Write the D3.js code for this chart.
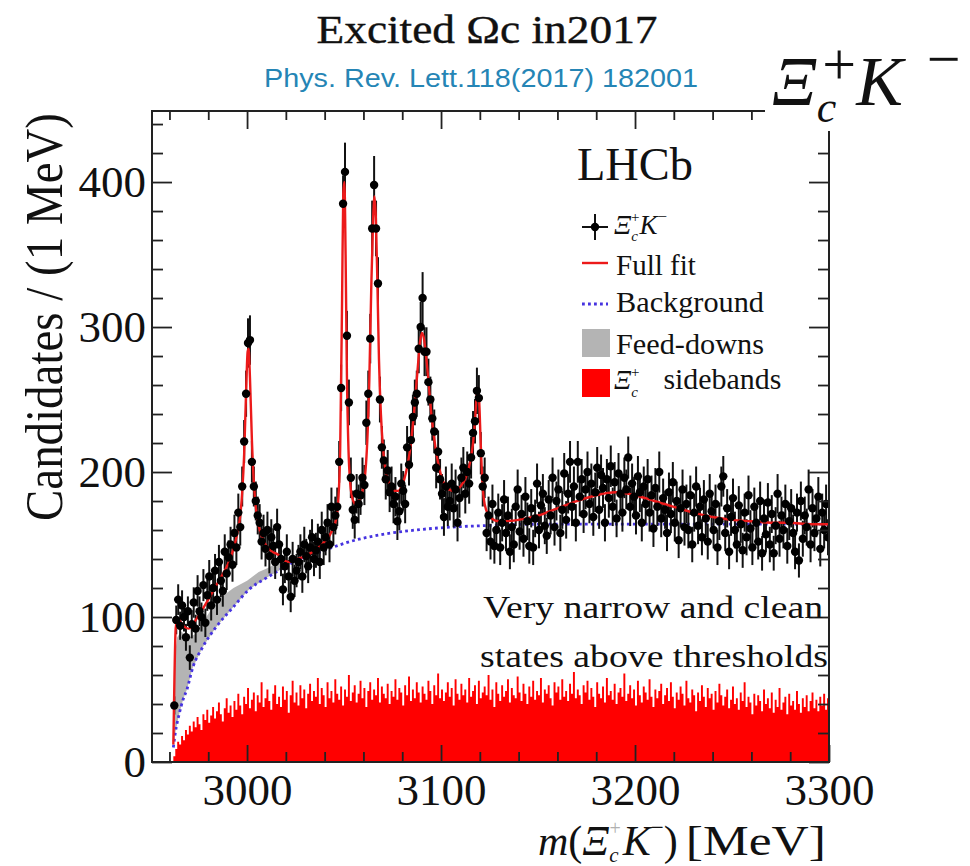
<!DOCTYPE html>
<html>
<head>
<meta charset="utf-8">
<script src="https://cdn.jsdelivr.net/npm/d3@7"></script>
<style>
  body { margin: 0; background: #fff; }
</style>
</head>
<body>
<svg id="chart" width="970" height="866" font-family="Liberation Serif, Times New Roman, serif"></svg>
<script>
// ---- m(Xi_c+ K-) spectrum, 1 MeV bins starting at the lower edge below ----
const binStart = 2962;
const binWidth = 1;

// Candidates per bin (Xi_c+ K- signal region)
const candidates = [
  39, 98, 112, 94, 108, 100, 86, 104, 72, 95,
  110, 92, 118, 104, 100, 122, 96, 115, 128, 108,
  120, 132, 112, 138, 125, 118, 145, 130, 141, 150,
  136, 158, 148, 172, 162, 190, 221, 254, 289, 291,
  207, 190, 180, 170, 165, 152, 158, 147, 160, 142,
  155, 149, 138, 162, 150, 140, 119, 135, 145, 128,
  114, 140, 125, 132, 138, 145, 128, 150, 142, 135,
  148, 155, 140, 146, 152, 138, 160, 148, 155, 165,
  150, 176, 162, 170, 176, 207, 258, 385, 407, 294,
  248, 196, 174, 167, 185, 178, 184, 196, 191, 234,
  254, 292, 368, 398, 368, 330, 250, 217, 208, 195,
  201, 186, 190, 178, 183, 166, 173, 192, 187, 178,
  217, 205, 222, 238, 248, 254, 285, 300, 320, 283,
  283, 262, 250, 237, 228, 203, 214, 195, 185, 169,
  190, 176, 180, 192, 175, 188, 165, 182, 196, 203,
  185, 200, 192, 210, 227, 235, 256, 251, 213, 190,
  196, 158, 170, 152, 178, 149, 160, 172, 148, 165,
  181, 158, 170, 145, 162, 150, 176, 188, 159, 171,
  154, 183, 166, 149, 175, 148, 168, 192, 160, 177,
  185, 163, 156, 181, 170, 196, 162, 180, 188, 158,
  174, 199, 167, 185, 207, 176, 190, 165, 207, 183,
  195, 171, 188, 200, 178, 192, 169, 186, 203, 174,
  198, 189, 165, 195, 182, 204, 176, 193, 168, 199,
  185, 172, 196, 188, 210, 176, 192, 183, 170, 197,
  186, 165, 190, 178, 195, 172, 184, 161, 189, 176,
  200, 168, 182, 174, 158, 186, 171, 193, 165, 180,
  153, 175, 188, 162, 178, 160, 184, 150, 172, 190,
  163, 176, 155, 181, 168, 152, 185, 173, 160, 178,
  148, 166, 190, 197, 158, 175, 145, 169, 182, 160,
  150, 177, 164, 146, 172, 155, 184, 161, 148, 176,
  165, 152, 180, 144, 168, 157, 179, 150, 171, 144,
  163, 185, 154, 170, 160, 178, 149, 166, 175, 158,
  145, 172, 139, 180, 154, 170, 162, 188, 150, 175,
  158, 168, 183, 147, 172, 160, 178, 155
];

// Xi_c+ sideband candidates per bin
const sidebands = [
  4, 9, 14, 12, 18, 15, 22, 19, 25, 21,
  28, 24, 31, 26, 22, 33, 29, 36, 27, 32,
  38, 30, 35, 41, 33, 28, 37, 44, 34, 39,
  31, 42, 36, 47, 39, 33, 45, 40, 51, 37,
  43, 48, 35, 46, 41, 55, 38, 44, 50, 42,
  36, 47, 53, 40, 45, 38, 52, 43, 49, 34,
  46, 56, 41, 48, 39, 53, 44, 50, 37, 47,
  54, 42, 49, 45, 58, 40, 51, 46, 38, 55,
  44, 49, 41, 57, 47, 43, 52, 39, 50, 45,
  60, 42, 48, 53, 41, 47, 56, 44, 51, 38,
  49, 55, 43, 50, 46, 58, 41, 52, 47, 44,
  54, 40, 49, 45, 57, 43, 51, 48, 39, 53,
  46, 59, 42, 50, 44, 55, 48, 41, 52, 47,
  43, 56, 49, 40, 53, 46, 61, 44, 50, 42,
  48, 55, 45, 51, 39, 57, 47, 43, 54, 46,
  50, 41, 58, 45, 49, 53, 40, 56, 44, 48,
  52, 46, 60, 43, 50, 38, 55, 47, 42, 53,
  45, 49, 57, 41, 51, 46, 44, 59, 48, 42,
  54, 47, 40, 52, 45, 56, 43, 49, 46, 58,
  41, 50, 47, 53, 44, 39, 55, 48, 52, 43,
  57, 45, 49, 42, 54, 47, 62, 44, 50, 46,
  40, 53, 48, 56, 43, 51, 45, 38, 55, 47,
  44, 52, 41, 58, 46, 49, 43, 54, 40, 48,
  51, 45, 61, 42, 47, 53, 44, 50, 39, 56,
  46, 41, 52, 48, 43, 57, 45, 38, 50, 44,
  49, 54, 40, 46, 51, 42, 55, 45, 37, 48,
  43, 52, 47, 39, 56, 44, 41, 50, 46, 35,
  48, 42, 53, 45, 38, 51, 44, 47, 36, 49,
  41, 54, 46, 39, 45, 50, 37, 43, 52, 40,
  44, 36, 48, 42, 55, 38, 45, 41, 33, 47,
  39, 46, 42, 35, 50, 40, 44, 37, 48, 34,
  43, 38, 51, 36, 41, 45, 33, 47, 39, 42,
  36, 49, 40, 34, 44, 38, 46, 35, 42, 48,
  37, 43, 35, 45, 39, 47, 36, 44
];

// Full fit curve
const fitMass = [
  2962, 2962.6, 2963.2, 2964, 2965, 2966, 2968, 2970, 2972, 2975,
  2980, 2985, 2990, 2993, 2995, 2996.5, 2997.5, 2998.5, 2999.5, 3000.3,
  3000.8, 3001.5, 3002.5, 3003.5, 3004.5, 3006, 3008, 3010, 3013, 3016,
  3019, 3022, 3026, 3030, 3035, 3040, 3044, 3046, 3047, 3048,
  3049, 3049.6, 3050.2, 3050.8, 3051.5, 3052.3, 3053.2, 3054.5, 3056, 3058,
  3060, 3061, 3062, 3063, 3064, 3065, 3065.7, 3066.4, 3067.2, 3068,
  3069, 3070, 3071, 3072, 3074, 3076, 3078, 3080, 3082, 3084,
  3086, 3088, 3089.2, 3090.2, 3091.2, 3092.3, 3093.5, 3095, 3097, 3099,
  3101, 3104, 3107, 3110, 3113, 3115, 3116.5, 3117.5, 3118.3, 3119,
  3119.7, 3120.4, 3121.2, 3122, 3123.5, 3126, 3130, 3140, 3150, 3160,
  3170, 3180, 3190, 3200, 3210, 3220, 3230, 3240, 3250, 3260,
  3270, 3280, 3290, 3300
];
const fitValue = [
  12, 60, 92, 98, 98, 96, 93, 92, 95, 101,
  112, 124, 136, 147, 158, 170, 186, 212, 255, 283,
  285, 265, 222, 193, 176, 163, 154, 149, 145, 143,
  139, 138, 140, 142, 146, 152, 160, 168, 180, 215,
  320, 392, 400, 350, 265, 215, 192, 181, 178, 181,
  190, 200, 222, 262, 325, 375, 390, 375, 330, 278,
  240, 218, 205, 198, 190, 187, 187, 191, 200, 215,
  240, 272, 290, 296, 292, 280, 263, 240, 218, 203,
  194, 188, 187, 190, 197, 207, 220, 235, 252, 258,
  248, 222, 196, 182, 173, 168, 166, 167, 170, 175,
  180, 184, 186, 184, 180, 176, 172, 169, 167, 166,
  165, 165, 164, 164
];

// Combinatorial background
const bkgMass  = [2962, 2963, 2965, 2967, 2969, 2972, 2977, 2984, 2993, 3001, 3010, 3019, 3027, 3036, 3044, 3053, 3070, 3087, 3105, 3122, 3150, 3200, 3250, 3300];
const bkgValue = [10, 20, 33, 43, 50, 65, 79, 93, 107, 119, 127, 134, 140, 144, 148, 152, 157, 160, 162, 163, 164, 164, 164, 164];

// Background + feed-down contribution (upper edge of the grey band)
const feedMass  = [2962, 2963, 2964, 2966, 2968, 2970, 2973, 2977, 2982, 2987, 2993, 3000, 3006, 3011, 3015, 3017, 3019];
const feedValue = [10, 76, 86, 90, 88, 86, 88, 96, 106, 114, 120, 125, 131, 134, 137, 138, 134];

const xMajorTicks = [3000, 3100, 3200, 3300];
const xMinorTicks = [2960, 2980, 3020, 3040, 3060, 3080, 3120, 3140, 3160, 3180, 3220, 3240, 3260, 3280];
const yMajorTicks = [0, 100, 200, 300, 400];
const yMinorTicks = [20, 40, 60, 80, 120, 140, 160, 180, 220, 240, 260, 280, 320, 340, 360, 380, 420, 440];

// ---- layout ----
const svg = d3.select("#chart");
const frame = { left: 152, right: 829, top: 111, bottom: 762 };
const x = d3.scaleLinear().domain([2951, 3300]).range([frame.left, frame.right]);
const y = d3.scaleLinear().domain([0, 449]).range([frame.bottom, frame.top]);

svg.append("rect").attr("width", 970).attr("height", 866).attr("fill", "#fff");

svg.append("defs").append("clipPath").attr("id", "plotClip")
  .append("rect")
  .attr("x", frame.left).attr("y", frame.top)
  .attr("width", frame.right - frame.left).attr("height", frame.bottom - frame.top);

const plot = svg.append("g").attr("clip-path", "url(#plotClip)");

const bins = candidates.map((c, i) => ({
  lo: binStart + i * binWidth,
  hi: binStart + (i + 1) * binWidth,
  n: c,
  sb: sidebands[i]
}));

// Sideband histogram as one filled step outline
const sbSteps = bins.map(d => [d.lo, d.sb]);
sbSteps.push([bins[bins.length - 1].hi, bins[bins.length - 1].sb]);
plot.append("path")
  .attr("d", d3.area().x(p => x(p[0])).y0(y(0)).y1(p => y(p[1])).curve(d3.curveStepAfter)(sbSteps))
  .attr("fill", "#ff0000");

// Feed-down band between the background and background + feed-downs
const feedPts = feedMass.map((m, i) => [m, feedValue[i]]);
const bkgPts = bkgMass.map((m, i) => [m, bkgValue[i]]);
const feedBand = feedPts.concat(
  bkgPts.filter(p => p[0] >= feedMass[0] && p[0] <= feedMass[feedMass.length - 1]).reverse()
);
plot.append("path")
  .attr("d", d3.line().x(p => x(p[0])).y(p => y(p[1]))(feedBand) + "Z")
  .attr("fill", "#b4b4b4");

// Background (dotted)
plot.append("path")
  .attr("d", d3.line().x(p => x(p[0])).y(p => y(p[1])).curve(d3.curveMonotoneX)(bkgPts))
  .attr("fill", "none")
  .attr("stroke", "#4633e0")
  .attr("stroke-width", 2.8)
  .attr("stroke-dasharray", "2.8,3.2");

// Data error bars (Poisson, sqrt N)
const centers = bins.map(d => ({ m: (d.lo + d.hi) / 2, lo: d.lo, hi: d.hi, n: d.n, e: Math.sqrt(d.n) }));
const bars = plot.append("g").attr("stroke", "#111").attr("stroke-width", 2);
bars.selectAll("line.v").data(centers).join("line").attr("class", "v")
  .attr("x1", d => x(d.m)).attr("x2", d => x(d.m))
  .attr("y1", d => y(d.n - d.e)).attr("y2", d => y(d.n + d.e));
bars.selectAll("line.h").data(centers).join("line").attr("class", "h")
  .attr("x1", d => x(d.lo)).attr("x2", d => x(d.hi))
  .attr("y1", d => y(d.n)).attr("y2", d => y(d.n));

// Full fit
const fitPts = fitMass.map((m, i) => [m, fitValue[i]]);
plot.append("path")
  .attr("d", d3.line().x(p => x(p[0])).y(p => y(p[1])).curve(d3.curveMonotoneX)(fitPts))
  .attr("fill", "none")
  .attr("stroke", "#ec1a1a")
  .attr("stroke-width", 2.4);

// Data points
plot.append("g").selectAll("circle").data(centers).join("circle")
  .attr("cx", d => x(d.m)).attr("cy", d => y(d.n)).attr("r", 4.2)
  .attr("fill", "#000");

// ---- axes: ticks point inward on all four sides ----
function tickAxis(axisFn, scale, values, size, translate, withLabels, padding) {
  const a = axisFn(scale).tickValues(values).tickSizeInner(-size).tickSizeOuter(0);
  if (withLabels) a.tickPadding(padding).tickFormat(d3.format("d"));
  const g = svg.append("g").attr("transform", translate).call(a);
  g.select(".domain").remove();
  g.selectAll("line").attr("stroke", "#222").attr("stroke-width", 1.8);
  if (withLabels) {
    g.selectAll("text").attr("font-family", "Liberation Serif, serif").attr("font-size", 45).attr("fill", "#111");
  } else {
    g.selectAll("text").remove();
  }
  return g;
}
tickAxis(d3.axisBottom, x, xMinorTicks, 10, `translate(0,${frame.bottom})`, false);
tickAxis(d3.axisBottom, x, xMajorTicks, 17, `translate(0,${frame.bottom})`, true, 11);
tickAxis(d3.axisTop, x, xMinorTicks, 9, `translate(0,${frame.top})`, false);
tickAxis(d3.axisTop, x, xMajorTicks, 18, `translate(0,${frame.top})`, false);
tickAxis(d3.axisLeft, y, yMinorTicks, 11, `translate(${frame.left},0)`, false);
tickAxis(d3.axisLeft, y, yMajorTicks, 20, `translate(${frame.left},0)`, true, 6);
tickAxis(d3.axisRight, y, yMinorTicks, 11, `translate(${frame.right},0)`, false);
tickAxis(d3.axisRight, y, yMajorTicks, 20, `translate(${frame.right},0)`, false);

svg.append("rect")
  .attr("x", frame.left).attr("y", frame.top)
  .attr("width", frame.right - frame.left).attr("height", frame.bottom - frame.top)
  .attr("fill", "none").attr("stroke", "#222").attr("stroke-width", 2);

// Axis titles
svg.append("text")
  .attr("transform", "translate(62,317) rotate(-90)")
  .attr("text-anchor", "middle")
  .attr("font-size", 52)
  .attr("textLength", 408).attr("lengthAdjust", "spacingAndGlyphs")
  .attr("fill", "#111")
  .text("Candidates / (1 MeV)");

// m(Xi_c+ K-) [MeV], laid out as one flowing line
const xt = svg.append("text").attr("x", 538).attr("y", 855).attr("font-size", 42).attr("fill", "#111");
xt.append("tspan").attr("font-style", "italic").text("m");
xt.append("tspan").text("(");
xt.append("tspan").attr("font-style", "italic").text("Ξ");
xt.append("tspan").attr("font-size", 21).attr("font-style", "italic").attr("dy", 7).text("c");
xt.append("tspan").attr("font-size", 20).attr("fill", "#b0b0b0").attr("dx", -9).attr("dy", -27).text("+");
xt.append("tspan").attr("font-style", "italic").attr("dx", 2).attr("dy", 20).text("K");
xt.append("tspan").attr("font-size", 23).attr("dy", -20).text("−");
xt.append("tspan").attr("dy", 20).text(")");
xt.append("tspan").attr("dx", 8).attr("textLength", 140).attr("lengthAdjust", "spacingAndGlyphs").text("[MeV]");

// ---- legend ----
svg.append("text").attr("x", 577).attr("y", 180).attr("font-size", 46)
  .attr("textLength", 116).attr("lengthAdjust", "spacingAndGlyphs").attr("fill", "#111").text("LHCb");

const lg = svg.append("g");
lg.append("line").attr("x1", 582).attr("x2", 608).attr("y1", 227).attr("y2", 227).attr("stroke", "#111").attr("stroke-width", 2);
lg.append("line").attr("x1", 595).attr("x2", 595).attr("y1", 214).attr("y2", 240).attr("stroke", "#111").attr("stroke-width", 2);
lg.append("circle").attr("cx", 595).attr("cy", 227).attr("r", 4.2).attr("fill", "#000");
const l1 = lg.append("text").attr("x", 614).attr("y", 234).attr("font-size", 27).attr("font-style", "italic").attr("fill", "#111");
l1.append("tspan").text("Ξ");
l1.append("tspan").attr("font-size", 15).attr("dy", 7).text("c");
l1.append("tspan").attr("font-size", 15).attr("font-style", "normal").attr("dx", -7).attr("dy", -19).text("+");
l1.append("tspan").attr("dx", 0).attr("dy", 12).text("K");
l1.append("tspan").attr("font-size", 17).attr("font-style", "normal").attr("dy", -12).text("−");

lg.append("line").attr("x1", 582).attr("x2", 608).attr("y1", 263).attr("y2", 263).attr("stroke", "#ec1a1a").attr("stroke-width", 2.4);
lg.append("text").attr("x", 616).attr("y", 275).attr("font-size", 29).attr("fill", "#111").text("Full fit");

lg.append("line").attr("x1", 582).attr("x2", 608).attr("y1", 304).attr("y2", 304).attr("stroke", "#4633e0").attr("stroke-width", 2.8).attr("stroke-dasharray", "2.8,3.2");
lg.append("text").attr("x", 616).attr("y", 312).attr("font-size", 29)
  .attr("textLength", 148).attr("lengthAdjust", "spacingAndGlyphs").attr("fill", "#111").text("Background");

lg.append("rect").attr("x", 582).attr("y", 329).attr("width", 28).attr("height", 28).attr("fill", "#b4b4b4");
lg.append("text").attr("x", 616).attr("y", 354).attr("font-size", 29)
  .attr("textLength", 148).attr("lengthAdjust", "spacingAndGlyphs").attr("fill", "#111").text("Feed-downs");

lg.append("rect").attr("x", 582).attr("y", 369).attr("width", 28).attr("height", 28).attr("fill", "#ff0000");
const l5 = lg.append("text").attr("x", 614).attr("y", 389).attr("font-size", 27).attr("fill", "#111");
l5.append("tspan").attr("font-style", "italic").text("Ξ");
l5.append("tspan").attr("font-size", 15).attr("font-style", "italic").attr("dy", 8).text("c");
l5.append("tspan").attr("font-size", 15).attr("dx", -7).attr("dy", -20).text("+");
l5.append("tspan").attr("font-size", 29).attr("dx", 24).attr("dy", 12)
  .attr("textLength", 118).attr("lengthAdjust", "spacingAndGlyphs").text("sidebands");

// ---- annotation ----
svg.append("text").attr("x", 483).attr("y", 618).attr("font-size", 31)
  .attr("textLength", 340).attr("lengthAdjust", "spacingAndGlyphs").attr("fill", "#111")
  .text("Very narrow and clean");
svg.append("text").attr("x", 480).attr("y", 667).attr("font-size", 31)
  .attr("textLength", 348).attr("lengthAdjust", "spacingAndGlyphs").attr("fill", "#111")
  .text("states above thresholds");

// ---- titles ----
svg.append("text").attr("x", 487).attr("y", 43).attr("text-anchor", "middle")
  .attr("font-size", 40).attr("textLength", 341).attr("lengthAdjust", "spacingAndGlyphs")
  .attr("fill", "#111").attr("stroke", "#111").attr("stroke-width", 0.4)
  .text("Excited Ωc in2017");
svg.append("text").attr("x", 481).attr("y", 87).attr("text-anchor", "middle")
  .attr("font-family", "Liberation Sans, Arial, sans-serif")
  .attr("font-size", 26).attr("textLength", 434).attr("lengthAdjust", "spacingAndGlyphs")
  .attr("fill", "#2585b5").text("Phys. Rev. Lett.118(2017) 182001");

// Channel label in the top-right corner, one flowing line
svg.append("rect").attr("x", 765).attr("y", 42).attr("width", 205).attr("height", 89).attr("fill", "#fff");
const ch = svg.append("text").attr("x", 772).attr("y", 105).attr("font-size", 70).attr("fill", "#111");
ch.append("tspan").attr("font-style", "italic").text("Ξ");
ch.append("tspan").attr("font-size", 44).attr("font-style", "italic").attr("dy", 17).text("c");
ch.append("tspan").attr("font-size", 60).attr("dx", -14).attr("dy", -38).text("+");
ch.append("tspan").attr("font-style", "italic").attr("dx", 0).attr("dy", 21).text("K");
ch.append("tspan").attr("font-size", 60).attr("dx", 24).attr("dy", -26).text("−");
</script>
</body>
</html>
